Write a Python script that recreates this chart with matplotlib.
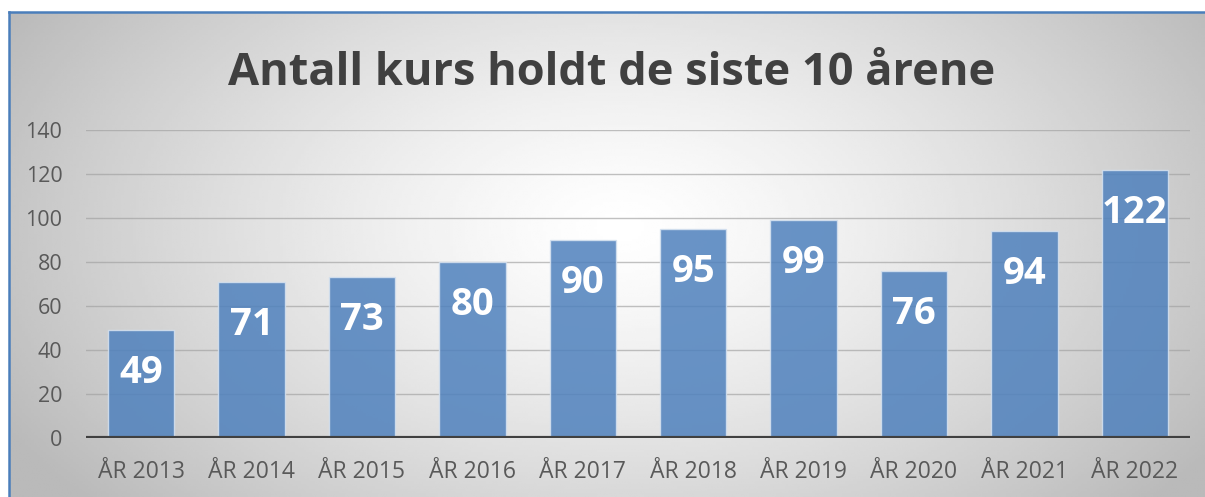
import numpy as np
import matplotlib.pyplot as plt

years = ['ÅR 2013', 'ÅR 2014', 'ÅR 2015', 'ÅR 2016', 'ÅR 2017',
         'ÅR 2018', 'ÅR 2019', 'ÅR 2020', 'ÅR 2021', 'ÅR 2022']
courses = [49, 71, 73, 80, 90, 95, 99, 76, 94, 122]
yticks = [0, 20, 40, 60, 80, 100, 120, 140]

W, H = 1205, 497
fig = plt.figure(figsize=(W / 100, H / 100), dpi=100)
fig.patch.set_facecolor('white')

# radial gradient background of the chart area
bg = fig.add_axes([0, 0, 1, 1])
bg.set_xlim(0, W)
bg.set_ylim(0, H)
bg.axis('off')
gx, gy = np.meshgrid(np.linspace(9, W, 400), np.linspace(0, H - 12, 200))
r = np.sqrt(((gx - 620) / 700) ** 2 + ((gy - 270) / 420) ** 2)
shade = 1 - 0.27 * np.clip(r, 0, 1) ** 1.3
bg.imshow(shade, extent=[9, W, 0, H - 12], origin='lower', cmap='gray',
          vmin=0, vmax=1, aspect='auto', interpolation='bilinear')
bg.plot([9, 9], [0, H - 12], color='#4a7ebb', lw=1.8)
bg.plot([9, W], [H - 12, H - 12], color='#4a7ebb', lw=1.8)

ax = fig.add_axes([86 / W, 59 / H, 1104 / W, 308 / H])
ax.patch.set_alpha(0)
x = np.arange(len(years))
ax.bar(x, courses, width=0.6, color='#4f81bd', alpha=0.85,
       edgecolor='#d6e2f0', linewidth=1, zorder=2)
for xi, v in zip(x, courses):
    ax.annotate(str(v), (xi, v), xytext=(0, -31), textcoords='offset points',
                ha='center', va='center', color='white', fontsize=27.5,
                fontweight='bold', family='Open Sans', zorder=3)

ax.set_xlim(-0.5, len(years) - 0.5)
ax.set_ylim(0, 140)
ax.set_yticks(yticks)
ax.set_xticks(x)
ax.set_xticklabels(years)
ax.grid(axis='y', color='#a0a0a0', alpha=0.65, lw=1, zorder=1)
ax.axhline(0, color='#404040', lw=3, zorder=4)
for s in ax.spines.values():
    s.set_visible(False)
ax.tick_params(length=0, colors='#595959')
ax.tick_params(axis='x', labelsize=16.5, pad=16)
ax.tick_params(axis='y', labelsize=15.5, pad=17)
for t in ax.get_xticklabels() + ax.get_yticklabels():
    t.set_family('Open Sans')

fig.text(612 / W, (H - 85) / H, 'Antall kurs holdt de siste 10 årene',
         ha='center', va='baseline', fontsize=32.5, fontweight='bold',
         color='#404040', family='Open Sans')

fig.savefig('out.png', dpi=100)
